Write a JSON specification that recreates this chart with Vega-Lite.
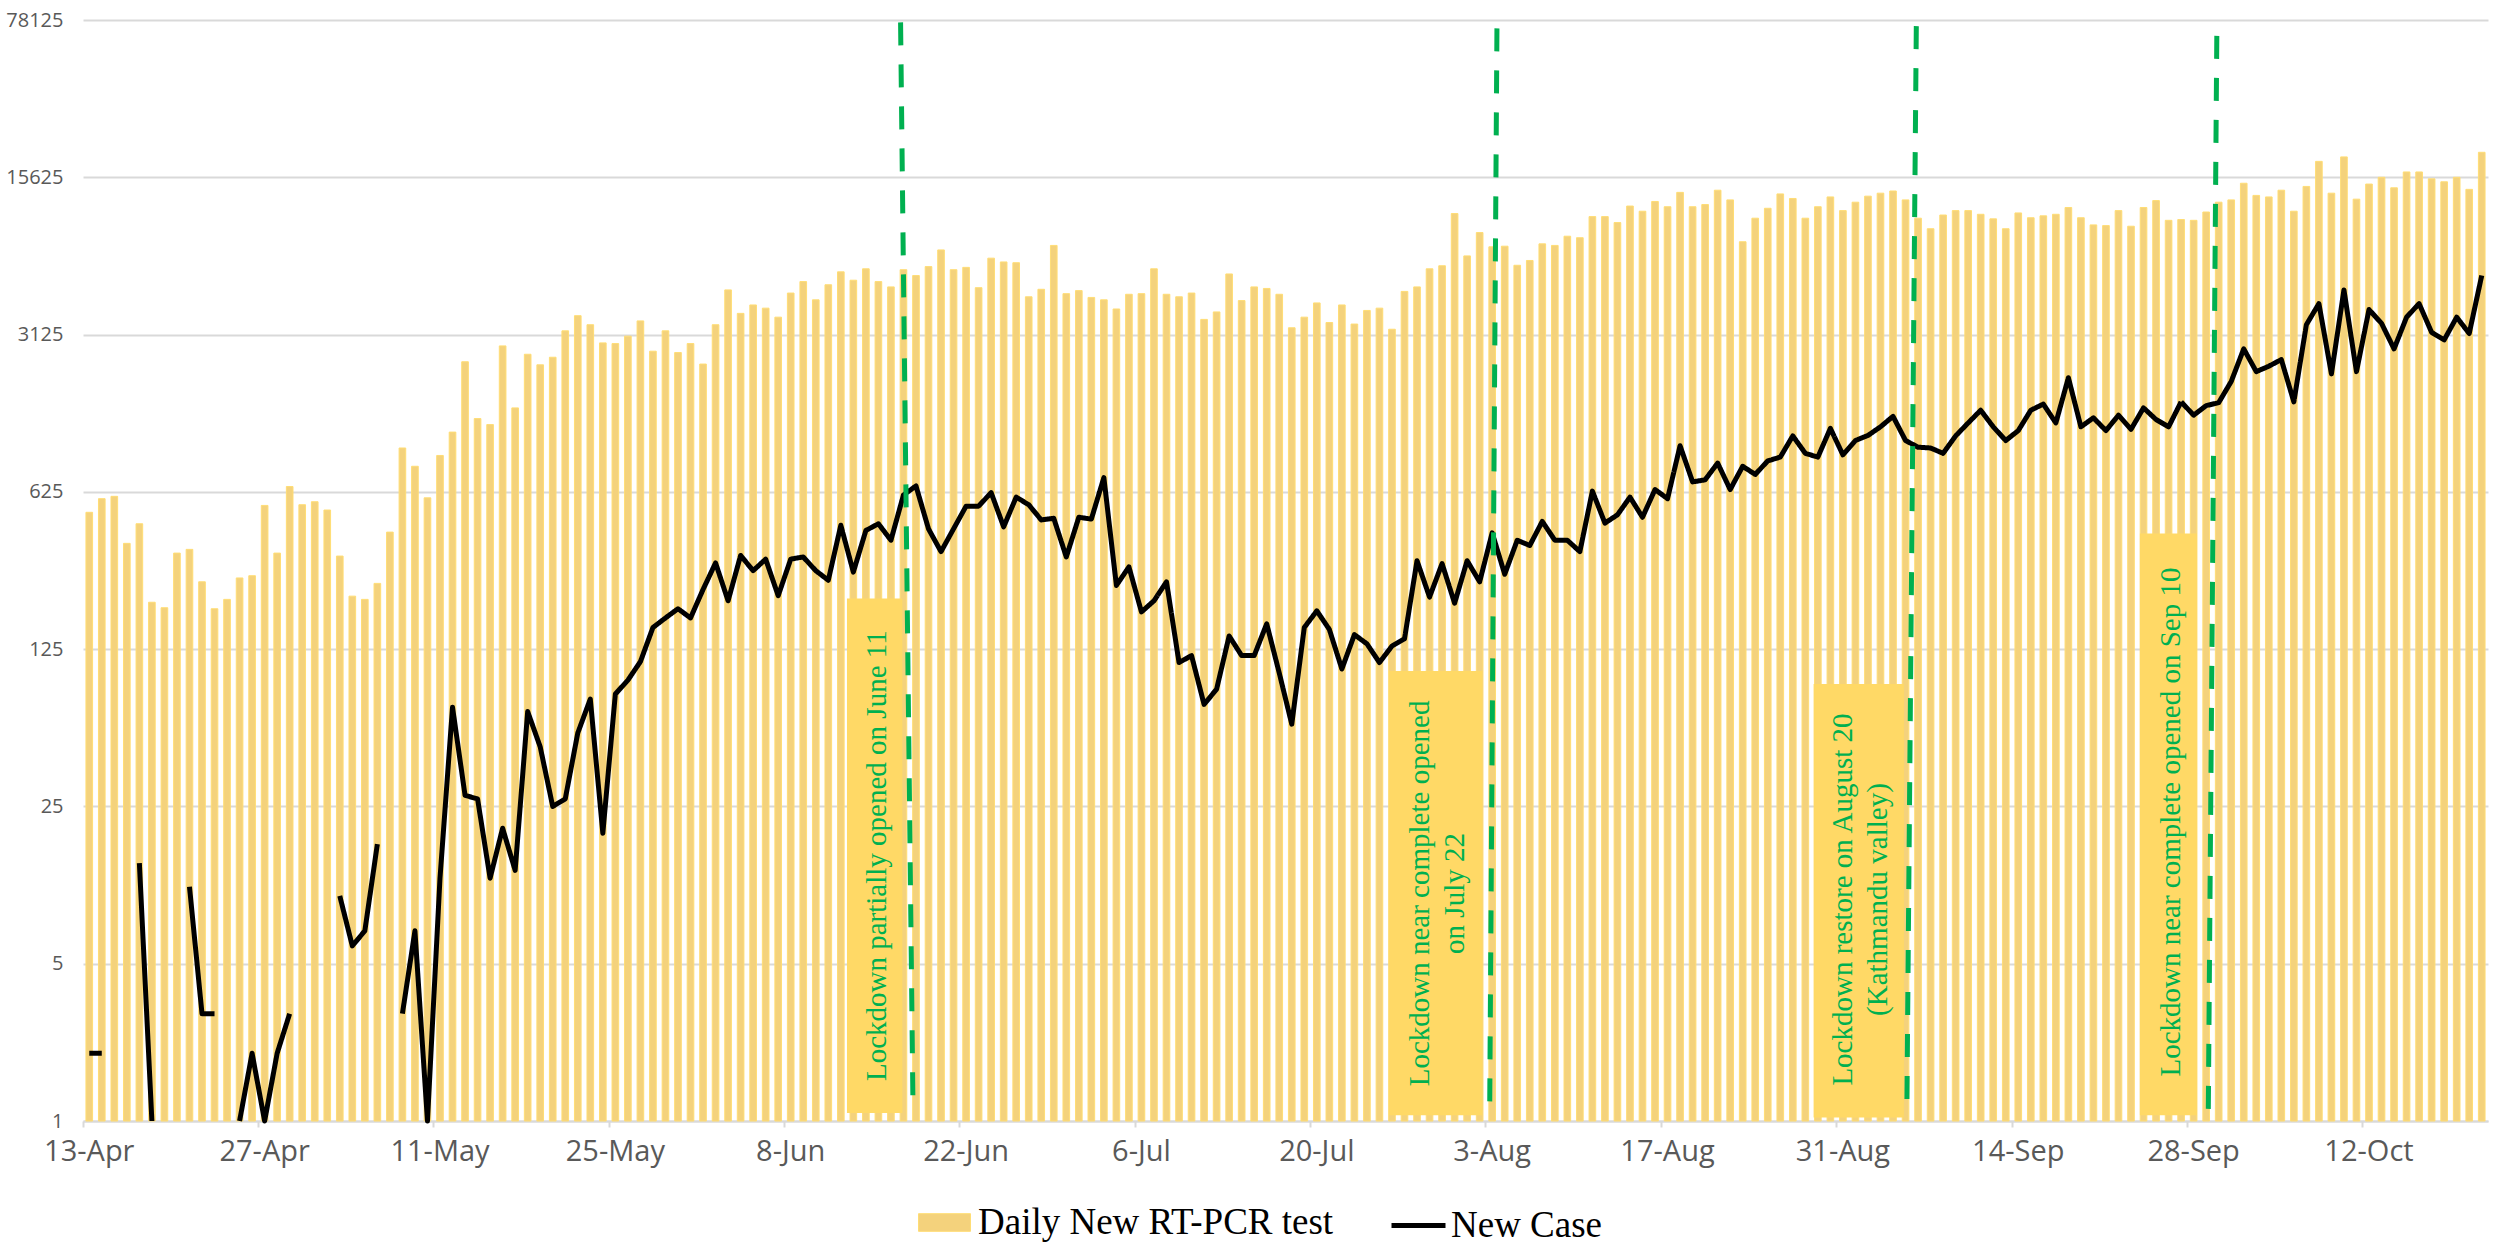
{
  "$schema": "https://vega.github.io/schema/vega-lite/v6.json",
  "width": 2405,
  "height": 1101,
  "autosize": {"type": "none"},
  "padding": {"left": 83, "top": 20, "right": 8, "bottom": 125},
  "background": "white",
  "config": {"view": {"stroke": null}, "font": "Open Sans"},
  "datasets": {
    "daily": [
      {"date":"13-Apr","tests":507,"cases":2},{"date":"14-Apr","tests":583,"cases":2},{"date":"15-Apr","tests":597,"cases":null},{"date":"16-Apr","tests":369,"cases":null},{"date":"17-Apr","tests":451,"cases":14},{"date":"18-Apr","tests":202,"cases":1},{"date":"19-Apr","tests":191,"cases":null},{"date":"20-Apr","tests":334,"cases":null},{"date":"21-Apr","tests":347,"cases":11},{"date":"22-Apr","tests":249,"cases":3},{"date":"23-Apr","tests":189,"cases":3},{"date":"24-Apr","tests":208,"cases":null},{"date":"25-Apr","tests":259,"cases":1},{"date":"26-Apr","tests":265,"cases":2},{"date":"27-Apr","tests":544,"cases":1},{"date":"28-Apr","tests":334,"cases":2},{"date":"29-Apr","tests":660,"cases":3},{"date":"30-Apr","tests":548,"cases":null},
      {"date":"1-May","tests":565,"cases":null},{"date":"2-May","tests":519,"cases":null},{"date":"3-May","tests":324,"cases":10},{"date":"4-May","tests":215,"cases":6},{"date":"5-May","tests":208,"cases":7},{"date":"6-May","tests":245,"cases":17},{"date":"7-May","tests":414,"cases":null},{"date":"8-May","tests":979,"cases":3},{"date":"9-May","tests":812,"cases":7},{"date":"10-May","tests":588,"cases":1},{"date":"11-May","tests":907,"cases":12},{"date":"12-May","tests":1152,"cases":69},{"date":"13-May","tests":2366,"cases":28},{"date":"14-May","tests":1323,"cases":27},{"date":"15-May","tests":1244,"cases":12},{"date":"16-May","tests":2783,"cases":20},{"date":"17-May","tests":1476,"cases":13},{"date":"18-May","tests":2555,"cases":66},{"date":"19-May","tests":2293,"cases":46},{"date":"20-May","tests":2478,"cases":25},{"date":"21-May","tests":3247,"cases":27},{"date":"22-May","tests":3792,"cases":53},{"date":"23-May","tests":3457,"cases":75},{"date":"24-May","tests":2870,"cases":19},{"date":"25-May","tests":2850,"cases":79},{"date":"26-May","tests":3075,"cases":91},{"date":"27-May","tests":3594,"cases":110},{"date":"28-May","tests":2636,"cases":156},{"date":"29-May","tests":3247,"cases":172},{"date":"30-May","tests":2600,"cases":189},{"date":"31-May","tests":2850,"cases":172},
      {"date":"1-Jun","tests":2311,"cases":230},{"date":"2-Jun","tests":3457,"cases":302},{"date":"3-Jun","tests":4936,"cases":205},{"date":"4-Jun","tests":3882,"cases":326},{"date":"5-Jun","tests":4231,"cases":279},{"date":"6-Jun","tests":4095,"cases":314},{"date":"7-Jun","tests":3734,"cases":216},{"date":"8-Jun","tests":4779,"cases":314},{"date":"9-Jun","tests":5374,"cases":321},{"date":"10-Jun","tests":4459,"cases":279},{"date":"11-Jun","tests":5203,"cases":253},{"date":"12-Jun","tests":5937,"cases":444},{"date":"13-Jun","tests":5450,"cases":275},{"date":"14-Jun","tests":6125,"cases":421},{"date":"15-Jun","tests":5374,"cases":451},{"date":"16-Jun","tests":5090,"cases":381},{"date":"17-Jun","tests":6070,"cases":605},{"date":"18-Jun","tests":5716,"cases":664},{"date":"19-Jun","tests":6265,"cases":428},{"date":"20-Jun","tests":7430,"cases":339},{"date":"21-Jun","tests":6070,"cases":428},{"date":"22-Jun","tests":6216,"cases":540},{"date":"23-Jun","tests":5050,"cases":540},{"date":"24-Jun","tests":6830,"cases":620},{"date":"25-Jun","tests":6570,"cases":437},{"date":"26-Jun","tests":6520,"cases":592},{"date":"27-Jun","tests":4600,"cases":548},{"date":"28-Jun","tests":4967,"cases":469},{"date":"29-Jun","tests":7780,"cases":477},{"date":"30-Jun","tests":4750,"cases":321},
      {"date":"1-Jul","tests":4900,"cases":482},{"date":"2-Jul","tests":4570,"cases":473},{"date":"3-Jul","tests":4459,"cases":723},{"date":"4-Jul","tests":4060,"cases":240},{"date":"5-Jul","tests":4720,"cases":290},{"date":"6-Jul","tests":4750,"cases":183},{"date":"7-Jul","tests":6125,"cases":205},{"date":"8-Jul","tests":4720,"cases":249},{"date":"9-Jul","tests":4600,"cases":109},{"date":"10-Jul","tests":4779,"cases":117},{"date":"11-Jul","tests":3650,"cases":71},{"date":"12-Jul","tests":3940,"cases":83},{"date":"13-Jul","tests":5810,"cases":143},{"date":"14-Jul","tests":4425,"cases":117},{"date":"15-Jul","tests":5090,"cases":117},{"date":"16-Jul","tests":5010,"cases":162},{"date":"17-Jul","tests":4720,"cases":98},{"date":"18-Jul","tests":3350,"cases":58},{"date":"19-Jul","tests":3734,"cases":156},{"date":"20-Jul","tests":4320,"cases":185},{"date":"21-Jul","tests":3535,"cases":153},{"date":"22-Jul","tests":4231,"cases":102},{"date":"23-Jul","tests":3480,"cases":145},{"date":"24-Jul","tests":4000,"cases":132},{"date":"25-Jul","tests":4095,"cases":109},{"date":"26-Jul","tests":3300,"cases":129},{"date":"27-Jul","tests":4860,"cases":139},{"date":"28-Jul","tests":5090,"cases":309},{"date":"29-Jul","tests":6125,"cases":213},{"date":"30-Jul","tests":6320,"cases":300},{"date":"31-Jul","tests":10780,"cases":200},
      {"date":"1-Aug","tests":6990,"cases":309},{"date":"2-Aug","tests":8875,"cases":249},{"date":"3-Aug","tests":7670,"cases":411},{"date":"4-Aug","tests":7720,"cases":269},{"date":"5-Aug","tests":6350,"cases":381},{"date":"6-Aug","tests":6670,"cases":361},{"date":"7-Aug","tests":7905,"cases":462},{"date":"8-Aug","tests":7780,"cases":381},{"date":"9-Aug","tests":8550,"cases":381},{"date":"10-Aug","tests":8420,"cases":339},{"date":"11-Aug","tests":10450,"cases":630},{"date":"12-Aug","tests":10450,"cases":454},{"date":"13-Aug","tests":9830,"cases":494},{"date":"14-Aug","tests":11640,"cases":592},{"date":"15-Aug","tests":11040,"cases":482},{"date":"16-Aug","tests":12200,"cases":640},{"date":"17-Aug","tests":11560,"cases":583},{"date":"18-Aug","tests":13390,"cases":1002},{"date":"19-Aug","tests":11560,"cases":692},{"date":"20-Aug","tests":11820,"cases":707},{"date":"21-Aug","tests":13690,"cases":839},{"date":"22-Aug","tests":12400,"cases":640},{"date":"23-Aug","tests":8080,"cases":812},{"date":"24-Aug","tests":10280,"cases":747},{"date":"25-Aug","tests":11380,"cases":858},{"date":"26-Aug","tests":13180,"cases":892},{"date":"27-Aug","tests":12580,"cases":1108},{"date":"28-Aug","tests":10280,"cases":927},{"date":"29-Aug","tests":11560,"cases":892},{"date":"30-Aug","tests":12780,"cases":1197},{"date":"31-Aug","tests":11110,"cases":913},
      {"date":"1-Sep","tests":12110,"cases":1057},{"date":"2-Sep","tests":12880,"cases":1113},{"date":"3-Sep","tests":13280,"cases":1216},{"date":"4-Sep","tests":13580,"cases":1354},{"date":"5-Sep","tests":12400,"cases":1057},{"date":"6-Sep","tests":10280,"cases":987},{"date":"7-Sep","tests":9230,"cases":979},{"date":"8-Sep","tests":10620,"cases":927},{"date":"9-Sep","tests":11110,"cases":1108},{"date":"10-Sep","tests":11110,"cases":1265},{"date":"11-Sep","tests":10700,"cases":1441},{"date":"12-Sep","tests":10210,"cases":1216},{"date":"13-Sep","tests":9230,"cases":1057},{"date":"14-Sep","tests":10850,"cases":1170},{"date":"15-Sep","tests":10330,"cases":1441},{"date":"16-Sep","tests":10530,"cases":1534},{"date":"17-Sep","tests":10700,"cases":1265},{"date":"18-Sep","tests":11470,"cases":2010},{"date":"19-Sep","tests":10330,"cases":1216},{"date":"20-Sep","tests":9600,"cases":1333},{"date":"21-Sep","tests":9530,"cases":1170},{"date":"22-Sep","tests":11110,"cases":1370},{"date":"23-Sep","tests":9470,"cases":1185},{"date":"24-Sep","tests":11470,"cases":1476},{"date":"25-Sep","tests":12310,"cases":1310},{"date":"26-Sep","tests":10060,"cases":1216},{"date":"27-Sep","tests":10140,"cases":1570},{"date":"28-Sep","tests":10060,"cases":1370},{"date":"29-Sep","tests":10950,"cases":1510},{"date":"30-Sep","tests":12110,"cases":1557},
      {"date":"1-Oct","tests":12400,"cases":1934},{"date":"2-Oct","tests":14700,"cases":2700},{"date":"3-Oct","tests":12980,"cases":2139},{"date":"4-Oct","tests":12780,"cases":2260},{"date":"5-Oct","tests":13690,"cases":2420},{"date":"6-Oct","tests":11040,"cases":1570},{"date":"7-Oct","tests":14230,"cases":3457},{"date":"8-Oct","tests":18390,"cases":4290},{"date":"9-Oct","tests":13280,"cases":2090},{"date":"10-Oct","tests":19250,"cases":4936},{"date":"11-Oct","tests":12490,"cases":2139},{"date":"12-Oct","tests":14580,"cases":4036},{"date":"13-Oct","tests":15625,"cases":3505},{"date":"14-Oct","tests":14030,"cases":2700},{"date":"15-Oct","tests":16500,"cases":3734},{"date":"16-Oct","tests":16500,"cases":4290},{"date":"17-Oct","tests":15380,"cases":3197},{"date":"18-Oct","tests":14920,"cases":2960},{"date":"19-Oct","tests":15625,"cases":3734},{"date":"20-Oct","tests":13810,"cases":3160},{"date":"21-Oct","tests":20180,"cases":5716}
    ],
    "events": [
      {"label":"Lockdown partially opened on June 11","boxStart":60.99,"boxEnd":65.41,"boxTop":210,"boxBottom":1.085,"textDay":63.36,"textLevel":15.1,"lineDayTop":65.27,"lineTop":76240,"lineDayBottom":66.26,"lineBottom":1.17},
      {"label":"Lockdown near complete opened\non July 22","boxStart":104.26,"boxEnd":111.71,"boxTop":100,"boxBottom":1.061,"textDay":106.7,"textLevel":10.26,"lineDayTop":112.88,"lineTop":71700,"lineDayBottom":112.3,"lineBottom":1.1},
      {"label":"Lockdown restore on August 20\n(Kathmandu valley)","boxStart":138.16,"boxEnd":145.37,"boxTop":87.4,"boxBottom":1.036,"textDay":140.5,"textLevel":9.64,"lineDayTop":146.36,"lineTop":73370,"lineDayBottom":145.6,"lineBottom":1.06},
      {"label":"Lockdown near complete opened on Sep 10","boxStart":164.21,"boxEnd":168.76,"boxTop":408,"boxBottom":1.061,"textDay":166.71,"textLevel":21.3,"lineDayTop":170.35,"lineTop":66400,"lineDayBottom":169.67,"lineBottom":1.1}
    ]
  },
  "layer": [
    {
      "data": {"name": "daily"},
      "layer": [
        {
          "mark": {"type": "bar", "width": {"band": 0.53}, "stroke": "#FFDD75", "strokeWidth": 1},
          "encoding": {
            "x": {
              "field": "date", "type": "ordinal", "sort": null,
              "scale": {"type": "band", "paddingInner": 0, "paddingOuter": 0},
              "axis": {
                "title": null,
                "values": ["13-Apr","27-Apr","11-May","25-May","8-Jun","22-Jun","6-Jul","20-Jul","3-Aug","17-Aug","31-Aug","14-Sep","28-Sep","12-Oct"],
                "bandPosition": 0, "labelAngle": 0, "labelFont": "Open Sans", "labelFontSize": 29,
                "labelColor": "#595959", "labelPadding": 10, "domainColor": "#D9D9D9", "domainWidth": 2,
                "tickColor": "#D9D9D9", "tickWidth": 2, "tickSize": 6, "grid": false
              }
            },
            "y": {
              "field": "tests", "type": "quantitative",
              "scale": {"type": "log", "base": 5, "domain": [1, 78125], "nice": false},
              "axis": {
                "title": null, "values": [1, 5, 25, 125, 625, 3125, 15625, 78125], "format": "d",
                "grid": true, "gridColor": "#D9D9D9", "gridWidth": 2, "domain": false, "ticks": false, "tickSize": 0,
                "labelPadding": 20, "labelFontSize": 20, "labelColor": "#595959", "labelFont": "Open Sans"
              }
            },
            "y2": {"datum": 1},
            "color": {
              "datum": "Daily New RT-PCR test",
              "scale": {"domain": ["Daily New RT-PCR test"], "range": ["#F4D27C"]},
              "legend": {
                "orient": "none", "legendX": 835, "legendY": 1176, "direction": "horizontal", "title": null,
                "labelFont": "Liberation Serif", "labelFontSize": 37, "labelColor": "#000000", "labelLimit": 0,
                "symbolType": "M-1,-0.34H1V0.34H-1Z", "symbolSize": 2704, "symbolStrokeColor": "#FFDD75", "symbolStrokeWidth": 1,
                "symbolOpacity": 1, "labelOffset": 7, "padding": 0
              }
            }
          }
        },
        {
          "mark": {"type": "line", "color": "#000000", "strokeWidth": 5, "invalid": "break-paths-filter-domains", "strokeJoin": "round"},
          "encoding": {
            "x": {"field": "date", "type": "ordinal", "sort": null},
            "y": {"field": "cases", "type": "quantitative", "scale": {"type": "log", "base": 5, "domain": [1, 78125], "nice": false}, "axis": {"title": null}},
            "strokeDash": {
              "datum": "New Case",
              "scale": {"domain": ["New Case"], "range": [[1, 0]]},
              "legend": {
                "orient": "none", "legendX": 1306, "legendY": 1176, "direction": "horizontal", "title": null,
                "labelFont": "Liberation Serif", "labelFontSize": 37, "labelColor": "#000000", "labelLimit": 0,
                "symbolType": "M-1,0H1", "symbolSize": 2916, "symbolStrokeColor": "#000000", "symbolStrokeWidth": 5,
                "symbolDash": [1, 0], "symbolOpacity": 1, "labelOffset": 3, "padding": 0
              }
            }
          }
        }
      ]
    },
    {
      "data": {"name": "events"},
      "layer": [
        {
          "mark": {"type": "rect", "fill": "#FFD966"},
          "encoding": {
            "x": {"field": "boxStart", "type": "quantitative", "scale": {"domain": [0, 192], "nice": false, "zero": false}, "axis": null},
            "x2": {"field": "boxEnd"},
            "y": {"field": "boxTop", "type": "quantitative", "scale": {"type": "log", "base": 5, "domain": [1, 78125], "nice": false}},
            "y2": {"field": "boxBottom"}
          }
        },
        {
          "mark": {"type": "text", "angle": 270, "font": "Liberation Serif", "fontSize": 29, "color": "#00B050", "align": "center", "baseline": "middle", "lineBreak": "\n", "lineHeight": 35},
          "encoding": {
            "x": {"field": "textDay", "type": "quantitative", "scale": {"domain": [0, 192], "nice": false, "zero": false}, "axis": null},
            "y": {"field": "textLevel", "type": "quantitative", "scale": {"type": "log", "base": 5, "domain": [1, 78125], "nice": false}},
            "text": {"field": "label"}
          }
        },
        {
          "mark": {"type": "rule", "color": "#00B050", "strokeWidth": 5, "strokeDash": [23, 19]},
          "encoding": {
            "x": {"field": "lineDayTop", "type": "quantitative", "scale": {"domain": [0, 192], "nice": false, "zero": false}, "axis": null},
            "x2": {"field": "lineDayBottom"},
            "y": {"field": "lineTop", "type": "quantitative", "scale": {"type": "log", "base": 5, "domain": [1, 78125], "nice": false}},
            "y2": {"field": "lineBottom"}
          }
        }
      ]
    }
  ],
  "resolve": {"scale": {"x": "independent"}}
}
